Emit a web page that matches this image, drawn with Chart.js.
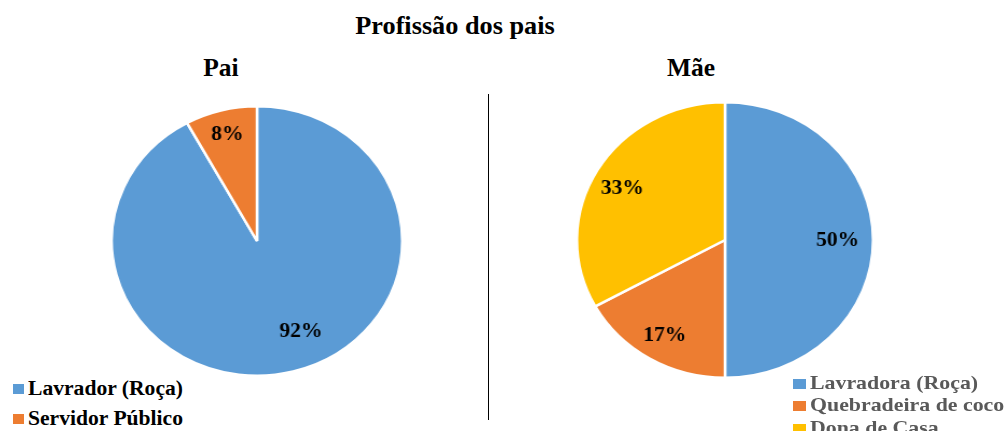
<!DOCTYPE html>
<html>
<head>
<meta charset="utf-8">
<script src="https://cdn.jsdelivr.net/npm/chart.js@4"></script>
<style>
  html, body { margin:0; padding:0; background:#fff; }
  body { width:1008px; height:431px; position:relative; overflow:hidden; font-family:"Liberation Serif","Times New Roman",serif; }
  .t { position:absolute; font-weight:bold; white-space:nowrap; line-height:1; color:#000; }
  canvas { position:absolute; }
  .vline { position:absolute; left:487.5px; top:94px; width:1.7px; height:326px; background:#000; }
  .leg { position:absolute; white-space:nowrap; font-weight:bold; line-height:1; }
  .leg .sq { position:absolute; }
  .leg .tx { position:absolute; transform-origin:left top; }
</style>
</head>
<body>
<div class="t" id="mainTitle" style="font-size:25.5px;left:0;width:910px;text-align:center;top:12.6px;transform:scaleX(1.03);transform-origin:455px 0;"></div>
<div class="t" id="paiTitle" style="font-size:25.5px;left:121px;width:200px;text-align:center;top:54.6px;"></div>
<div class="t" id="maeTitle" style="font-size:25.5px;left:591px;width:200px;text-align:center;top:54.6px;"></div>
<div class="vline"></div>
<canvas id="paiChart" width="272" height="272" style="left:121px;top:105px;transform:scaleX(1.078);transform-origin:center center;"></canvas>
<canvas id="maeChart" width="278" height="278" style="left:586px;top:101px;transform:scaleX(1.075);transform-origin:center center;"></canvas>
<div id="paiLegend"></div>
<div id="maeLegend"></div>
<script>
// ---- data ----
const mainTitle = 'Profissão dos pais';
const paiTitle = 'Pai';
const maeTitle = 'Mãe';
const paiLabels = ['Lavrador (Roça)', 'Servidor Público'];
const paiValues = [92, 8];
const paiColors = ['#5B9BD5', '#ED7D31'];
const maeLabels = ['Lavradora (Roça)', 'Quebradeira de coco', 'Dona de Casa'];
const maeValues = [50, 17, 33];
const maeColors = ['#5B9BD5', '#ED7D31', '#FFC000'];

document.getElementById('mainTitle').textContent = mainTitle;
document.getElementById('paiTitle').textContent = paiTitle;
document.getElementById('maeTitle').textContent = maeTitle;

// percent labels drawn on the slices
const sliceLabels = {
  id: 'sliceLabels',
  afterDatasetsDraw(chart, args, opts) {
    const ctx = chart.ctx;
    const meta = chart.getDatasetMeta(0);
    const ds = chart.data.datasets[0];
    ctx.save();
    ctx.font = 'bold 20px "Liberation Serif", serif';
    ctx.fillStyle = '#000';
    ctx.textAlign = 'center';
    ctx.textBaseline = 'middle';
    meta.data.forEach((arc, i) => {
      const p = arc.getProps(['x','y','startAngle','endAngle','outerRadius'], true);
      const place = (opts.place && opts.place[i]) || {};
      const frac = place.r != null ? place.r : 0.79;
      const turn = (place.turn || 0) * Math.PI / 180;
      const mid = (p.startAngle + p.endAngle) / 2 + turn;
      const r = p.outerRadius * frac;
      ctx.fillText(ds.data[i] + '%', p.x + Math.cos(mid) * r, p.y + Math.sin(mid) * r + 1);
    });
    ctx.restore();
  }
};

function makePie(id, labels, values, colors, place) {
  return new Chart(document.getElementById(id), {
    type: 'pie',
    data: { labels: labels, datasets: [{ data: values, backgroundColor: colors, borderColor: '#fff', borderWidth: 2.5 }] },
    options: {
      responsive: false,
      animation: false,
      layout: { padding: 0 },
      plugins: { legend: { display: false }, tooltip: { enabled: false }, title: { display: false }, sliceLabels: { place: place } },
      events: []
    },
    plugins: [sliceLabels]
  });
}

makePie('paiChart', paiLabels, paiValues, paiColors, [{ r: 0.73, turn: -10 }, { r: 0.82 }]);
makePie('maeChart', maeLabels, maeValues, maeColors, [{ r: 0.76 }, { r: 0.8 }, { r: 0.79, turn: -2 }]);

function makeLegend(id, labels, colors, cfg) {
  const root = document.getElementById(id);
  labels.forEach((lab, i) => {
    const item = document.createElement('div');
    item.className = 'leg';
    item.style.left = '0px';
    item.style.top = (cfg.top + i * cfg.step) + 'px';
    item.style.fontSize = cfg.fs + 'px';
    item.style.color = cfg.color;
    const sq = document.createElement('div');
    sq.className = 'sq';
    sq.style.left = cfg.sqLeft + 'px';
    sq.style.top = cfg.sqDy + 'px';
    sq.style.width = cfg.sqW + 'px';
    sq.style.height = cfg.sqH + 'px';
    sq.style.background = colors[i];
    const tx = document.createElement('div');
    tx.className = 'tx';
    tx.style.left = cfg.txLeft + 'px';
    tx.style.top = '0px';
    tx.style.transform = 'scaleX(' + cfg.sx + ')';
    tx.textContent = lab;
    item.appendChild(sq);
    item.appendChild(tx);
    root.appendChild(item);
  });
}

makeLegend('paiLegend', paiLabels, paiColors, { top: 378.2, step: 30, fs: 20, color: '#000', sqLeft: 13, sqDy: 6, sqW: 11, sqH: 10, txLeft: 28, sx: 1.08 });
makeLegend('maeLegend', maeLabels, maeColors, { top: 372.5, step: 22.5, fs: 19, color: '#595959', sqLeft: 793, sqDy: 6, sqW: 13, sqH: 10, txLeft: 810, sx: 1.15 });
</script>
</body>
</html>
